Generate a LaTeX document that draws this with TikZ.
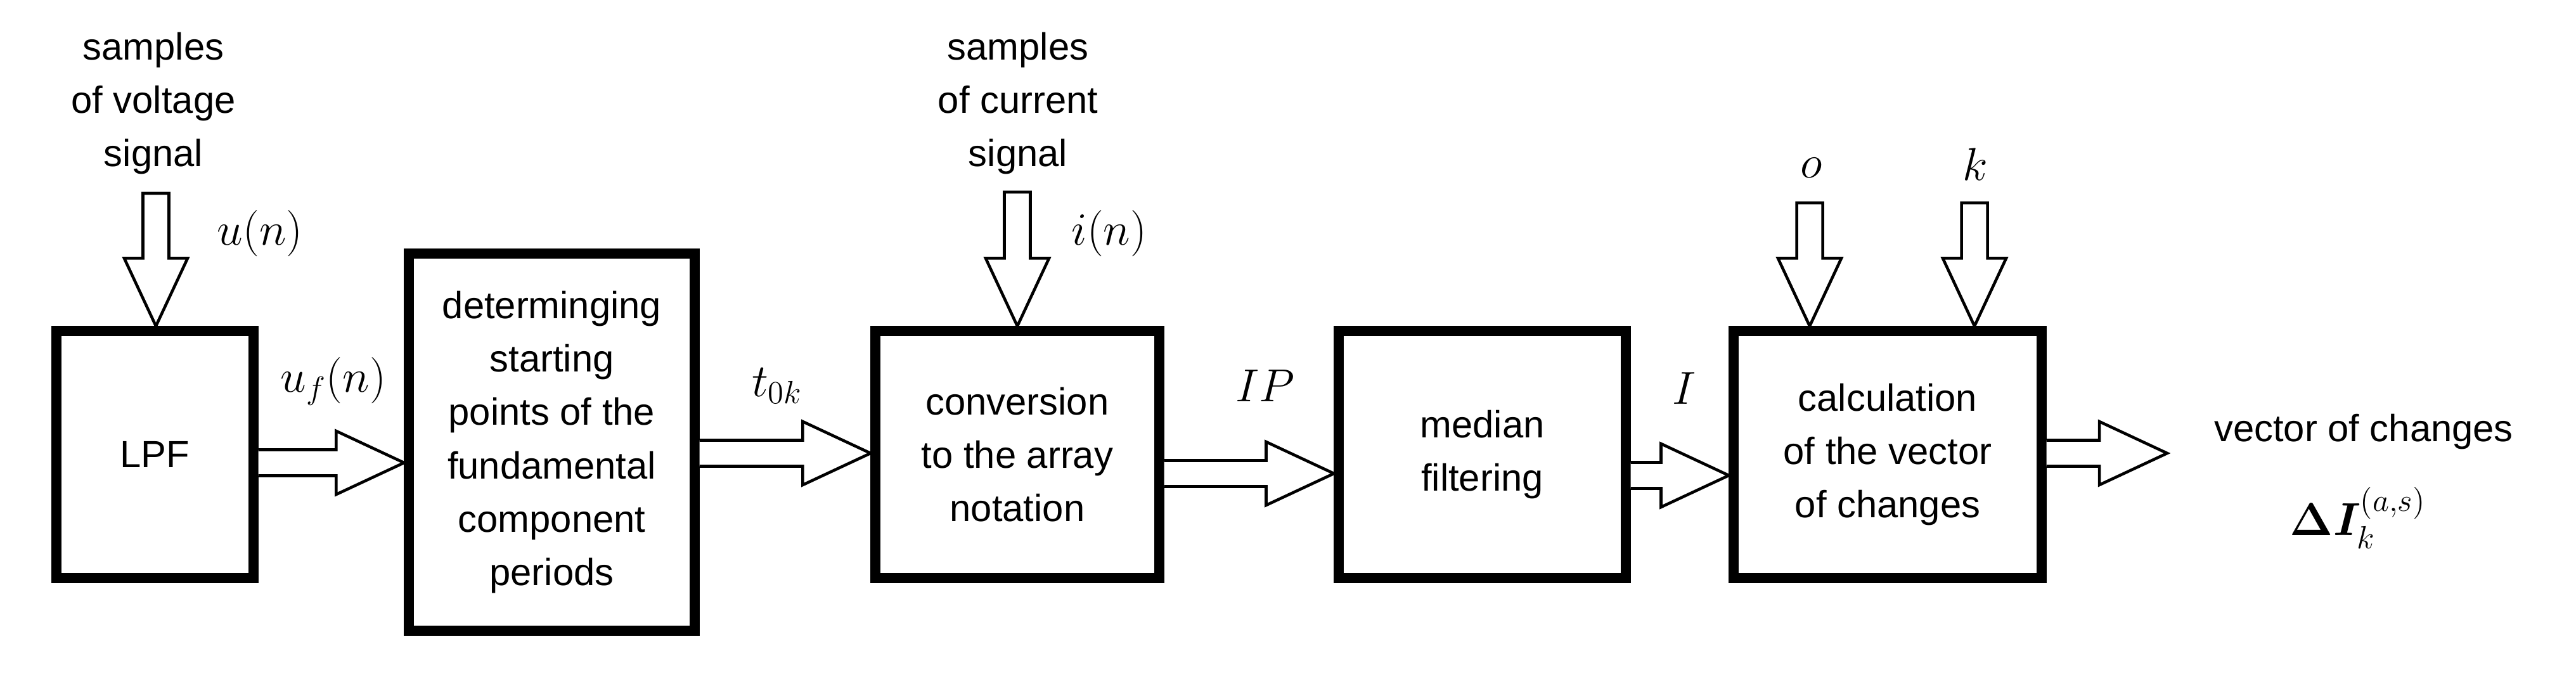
\documentclass[tikz,border=0pt]{standalone}
\usepackage{fontspec}
\setmainfont{Liberation Sans}
\usepackage{amsmath}
\usepackage{bm}
\usetikzlibrary{calc}

\def\sw{0.205cm}
\def\hw{0.5cm}
\def\hl{1.07cm}
% hollow block arrows
\newcommand{\hflow}[2]{\draw[flow] let \p1=(#1),\p2=(#2) in
  (\x1,\y1+\sw) -- (\x2-\hl,\y1+\sw) -- (\x2-\hl,\y1+\hw) -- (\x2,\y1)
  -- (\x2-\hl,\y1-\hw) -- (\x2-\hl,\y1-\sw) -- (\x1,\y1-\sw);}
\newcommand{\vflow}[2]{\draw[flow] let \p1=(#1),\p2=(#2) in
  (\x2-\sw,\y1) -- (\x2-\sw,\y2+\hl) -- (\x2-\hw,\y2+\hl) -- (\x2,\y2)
  -- (\x2+\hw,\y2+\hl) -- (\x2+\sw,\y2+\hl) -- (\x2+\sw,\y1) -- cycle;}

\begin{document}
\begin{tikzpicture}[
  block/.style={draw, line width=4.3pt, minimum height=3.9cm, align=center,
    font=\fontsize{17}{24}\selectfont},
  flow/.style={draw, line width=1.3pt, fill=white, line join=miter},
  txt/.style={align=center, font=\fontsize{17}{24}\selectfont},
  sig/.style={font=\fontsize{20}{24}\selectfont}
]
\useasboundingbox (0,0) rectangle (40.64,10.67);

% blocks
\node[block, minimum width=3.11cm] (lpf) at (2.445,3.50) {LPF};
\node[block, minimum width=4.51cm, minimum height=5.95cm] (start) at (8.705,3.695)
  {determinging\\starting\\points of the\\fundamental\\component\\periods};
\node[block, minimum width=4.48cm] (conv) at (16.05,3.50) {conversion\\to the array\\notation};
\node[block, minimum width=4.53cm] (median) at (23.385,3.50) {median\\filtering};
\node[block, minimum width=4.86cm] (calc) at (29.78,3.50) {calculation\\of the vector\\of changes};

% inputs
\node[txt] (usmp) at (2.42,9.04) {samples\\of voltage\\signal};
\node[txt] (ismp) at (16.06,9.04) {samples\\of current\\signal};
\coordinate (utop) at (2.46,7.62);
\coordinate (itop) at (16.05,7.64);
\coordinate (otop) at (28.55,7.47);
\coordinate (ktop) at (31.15,7.47);
\coordinate (out) at (34.19,3.52);

\vflow{utop}{lpf.north -| utop}
\vflow{itop}{conv.north -| itop}
\vflow{otop}{calc.north -| otop}
\vflow{ktop}{calc.north -| ktop}

% signal chain
\hflow{$(lpf.east)+(0,-0.13)$}{start.west}
\hflow{$(start.east)+(0,-0.175)$}{conv.west}
\hflow{$(conv.east)+(0,-0.30)$}{median.west}
\hflow{$(median.east)+(0,-0.33)$}{calc.west}
\hflow{$(calc.east)+(0,0.02)$}{out}

% labels
\node[sig] (lu) at (4.10,6.99) {$u(n)$};
\node[sig] (li) at (17.50,6.99) {$i(n)$};
\node[sig] (luf) at (5.26,4.65) {$u_f(n)$};
\node[sig] (lt) at (12.26,4.58) {$t_{0k}$};
\node[sig] (lip) at (19.96,4.58) {$IP$};
\node[sig] (lI) at (26.57,4.54) {$I$};
\node[sig] (lo) at (28.58,8.02) {$o$};
\node[sig] (lk) at (31.16,8.08) {$k$};
\node[txt] (vec) at (37.29,3.86) {vector of changes};
\node[sig] (dI) at (37.2,2.50) {$\boldsymbol{\Delta I}_k^{(a,s)}$};
\end{tikzpicture}
\end{document}
